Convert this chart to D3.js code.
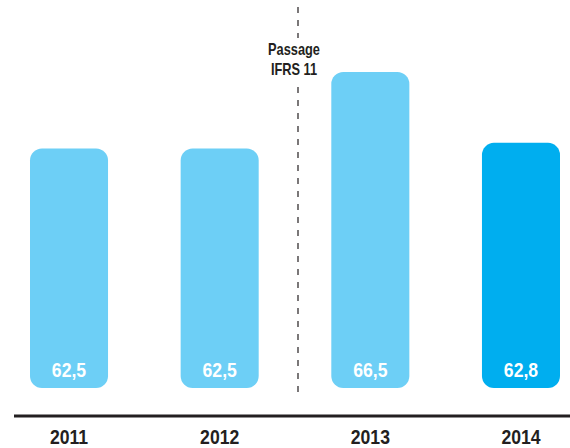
<!DOCTYPE html>
<html>
<head>
<meta charset="utf-8">
<script src="https://cdn.jsdelivr.net/npm/d3@7"></script>
<style>
html,body{margin:0;padding:0;background:#fff;}
svg{display:block;}
text{font-family:"Liberation Sans",Arial,sans-serif;font-weight:bold;}
</style>
</head>
<body>
<svg id="chart" width="570" height="448"></svg>
<script>
const years = ["2011", "2012", "2013", "2014"];
const values = [62.5, 62.5, 66.5, 62.8];
const valueLabels = ["62,5", "62,5", "66,5", "62,8"];
const highlight = [false, false, false, true];
const annotation = ["Passage", "IFRS 11"];

const svg = d3.select("#chart");
const x = d3.scaleBand().domain(years).range([30, 560]).paddingInner(0.482).paddingOuter(0);
const y = d3.scaleLinear().domain([50, 66.5]).range([388, 72]);
const squeeze = "scale(0.86,1)";

svg.selectAll("rect.bar").data(years).join("rect")
  .attr("class", "bar")
  .attr("x", d => x(d))
  .attr("width", x.bandwidth())
  .attr("y", (d, i) => y(values[i]))
  .attr("height", (d, i) => y(50) - y(values[i]))
  .attr("rx", 12).attr("ry", 12)
  .attr("fill", (d, i) => highlight[i] ? "#00aeef" : "#6dcff6");

svg.selectAll("g.val").data(years).join("g")
  .attr("class", "val")
  .attr("transform", d => `translate(${x(d) + x.bandwidth() / 2},376.5)`)
  .append("text")
  .attr("transform", squeeze)
  .attr("text-anchor", "middle")
  .attr("font-size", 20.5)
  .attr("fill", "#fff")
  .text((d, i) => valueLabels[i]);

// axis
const axis = d3.axisBottom(x).tickSize(0).tickPadding(0);
const g = svg.append("g").attr("transform", "translate(0,416)").call(axis);
g.select(".domain").remove();
g.append("line").attr("x1", 14).attr("x2", 570).attr("y1", 0).attr("y2", 0)
  .attr("stroke", "#231f20").attr("stroke-width", 3);
g.selectAll(".tick text")
  .attr("dy", null).attr("y", 28.5)
  .attr("transform", squeeze)
  .attr("font-size", 20.5).attr("fill", "#231f20")
  .style("font-family", "'Liberation Sans',Arial,sans-serif")
  .style("font-weight", "bold");

// IFRS separator
const sepX = 298;
svg.append("line").attr("x1", sepX).attr("x2", sepX).attr("y1", 7).attr("y2", 38)
  .attr("stroke", "#231f20").attr("stroke-width", 1.2).attr("stroke-dasharray", "6,7");
svg.append("line").attr("x1", sepX).attr("x2", sepX).attr("y1", 87).attr("y2", 394)
  .attr("stroke", "#231f20").attr("stroke-width", 1.2).attr("stroke-dasharray", "6,7");
svg.selectAll("g.ann").data(annotation).join("g")
  .attr("class", "ann")
  .attr("transform", (d, i) => `translate(294,${55 + i * 20})`)
  .append("text")
  .attr("transform", "scale(0.8,1)")
  .attr("text-anchor", "middle")
  .attr("font-size", 16)
  .attr("fill", "#231f20")
  .text(d => d);
</script>
</body>
</html>
